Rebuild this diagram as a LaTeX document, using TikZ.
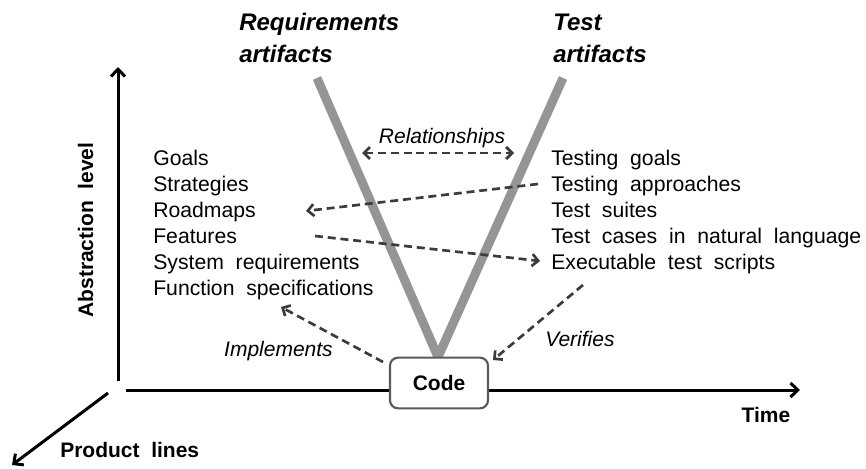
\documentclass[tikz,border=0pt]{standalone}
\usepackage{fontspec}
\setmainfont{Liberation Sans}[WordSpace=2]
\usetikzlibrary{arrows.meta}
\definecolor{vgray}{HTML}{959595}
\definecolor{linkgray}{HTML}{3C3C3C}
\definecolor{boxgray}{HTML}{5A5A5A}
\begin{document}
\begin{tikzpicture}[x=0.75pt,y=-0.75pt,
  item/.style={anchor=base west, inner sep=0pt, font=\fontsize{15.9}{18}\selectfont},
  head/.style={anchor=base west, inner sep=0pt, font=\fontsize{18}{21}\selectfont\bfseries\itshape},
  tag/.style={inner sep=0pt, font=\fontsize{15.75}{18}\selectfont\itshape},
  axlabel/.style={inner sep=0pt, font=\fontsize{15.75}{18}\selectfont\bfseries},
  axis/.style={line width=2.25pt, -{Straight Barb[length=5.5pt,width=10.5pt]}},
  link/.style={draw=linkgray, line width=2pt, dash pattern=on 6pt off 3.6pt,
               -{Straight Barb[length=4.5pt,width=9pt]}},
  vleg/.style={draw=vgray, line width=6.75pt},
  codebox/.style={draw=boxgray, line width=1.6pt, fill=white, rounded corners=6pt,
                  minimum width=73.5pt, minimum height=38pt, inner sep=0pt,
                  font=\fontsize{15.75}{18}\selectfont\bfseries}
]
\useasboundingbox (0,0) rectangle (866,468);

% axes
\coordinate (origin) at (118,381);
\coordinate (ytop) at (118,67);
\coordinate (xstart) at (126,390);
\coordinate (xend) at (800,390);
\coordinate (dstart) at (108,393);
\coordinate (dend) at (12,465);
\draw[axis] (origin) -- (ytop);
\draw[axis] (xstart) -- (xend);
\draw[axis] (dstart) -- (dend);

% the V of the two artifact chains
\coordinate (vbottom) at (438,357);
\coordinate (vleft) at (317,78);
\coordinate (vright) at (563,78);
\draw[vleg] (vleft) -- (vbottom);
\draw[vleg] (vright) -- (vbottom);

% code box on the time axis
\node[codebox] (code) at (439,383) {Code};

% column headers
\node[head] (req1) at (239,30) {Requirements};
\node[head] (req2) at (239,62) {artifacts};
\node[head] (test1) at (553,30) {Test};
\node[head] (test2) at (553,62) {artifacts};

% requirements artifacts
\node[item] (g1) at (153,165) {Goals};
\node[item] (g2) at (153,191) {Strategies};
\node[item] (g3) at (153,217) {Roadmaps};
\node[item] (g4) at (153,243) {Features};
\node[item] (g5) at (153,269) {System requirements};
\node[item] (g6) at (153,295) {Function specifications};

% test artifacts
\node[item] (t1) at (551,165) {Testing goals};
\node[item] (t2) at (551,191) {Testing approaches};
\node[item] (t3) at (551,217) {Test suites};
\node[item] (t4) at (551,243) {Test cases in natural language};
\node[item] (t5) at (551,269) {Executable test scripts};

% relationship arrows
\node[tag, anchor=base] (rel) at (442,143) {Relationships};
\coordinate (rl) at (362,153);
\coordinate (rr) at (514,153);
\draw[link, {Straight Barb[length=4.5pt,width=9pt]}-{Straight Barb[length=4.5pt,width=9pt]}] (rl) -- (rr);

\coordinate (a1s) at (538,184);
\coordinate (a1e) at (306,211);
\draw[link] (a1s) -- (a1e);

\coordinate (a2s) at (315,236);
\coordinate (a2e) at (540,261);
\draw[link] (a2s) -- (a2e);

\coordinate (imps) at (383,362);
\coordinate (impe) at (281,307);
\draw[link] (imps) -- (impe);
\node[tag, anchor=base east] (impl) at (333,356) {Implements};

\coordinate (vers) at (583,285);
\coordinate (vere) at (493,360);
\draw[link] (vers) -- (vere);
\node[tag, anchor=base west] (ver) at (545,346) {Verifies};

% axis labels
\node[axlabel, anchor=base] (time) at (766,422) {Time};
\node[axlabel, anchor=base west] (pl) at (60,457) {Product lines};
\node[axlabel, anchor=base, rotate=90] (abs) at (93,230) {Abstraction level};
\end{tikzpicture}
\end{document}
